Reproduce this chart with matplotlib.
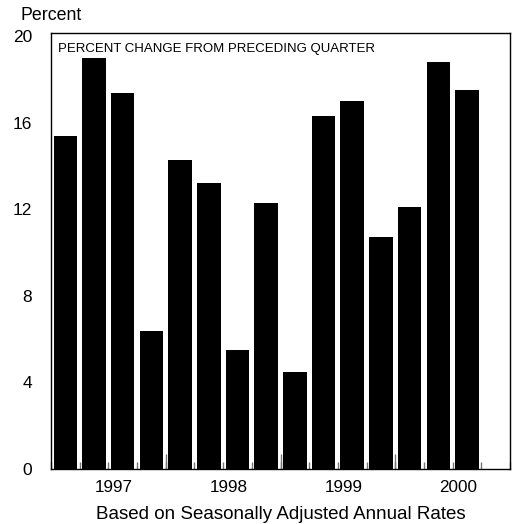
import numpy as np
import matplotlib
matplotlib.use("Agg")
import matplotlib.pyplot as plt

plt.rcParams['font.family'] = ['Liberation Sans', 'DejaVu Sans']

# quarterly percent change, 1997 Q1 .. 2000 Q3
values = [15.4, 19.0, 17.4, 6.4, 14.3, 13.2, 5.5, 12.3,
          4.5, 16.3, 17.0, 10.7, 12.1, 18.8, 17.5]
years = ['1997', '1998', '1999', '2000']
y_ticks = [0, 4, 8, 12, 16, 20]
n_slots = 16  # last quarter of 2000 has no bar yet

fig = plt.figure(figsize=(5.16, 5.24), dpi=100)
ax = fig.add_axes([51 / 516, 1 - 469 / 524, 459 / 516, 436 / 524])

x = np.arange(len(values))
ax.bar(x, values, width=0.82, color='black')

ax.set_xlim(-0.5, n_slots - 0.5)
ax.set_ylim(0, 20.15)

ax.set_yticks(y_ticks)
ax.set_yticklabels([str(v) for v in y_ticks])
ax.tick_params(axis='y', length=0, pad=13.5, labelsize=12.5)

# year labels centred under each group of four quarters
ax.set_xticks(np.arange(len(years)) * 4 + 1.7)
ax.set_xticklabels(years)
ax.tick_params(axis='x', which='major', length=0, pad=8, labelsize=12.3)

# short quarter ticks pointing in
ax.set_xticks(np.arange(n_slots + 1) - 0.5, minor=True)
ax.tick_params(axis='x', which='minor', direction='in', length=5,
               width=1, color='#777777')

# taller year-boundary ticks
sec = ax.secondary_xaxis('bottom')
sec.set_xticks(np.arange(1, len(years)) * 4 - 0.5)
sec.set_xticklabels([])
sec.tick_params(direction='in', length=11, width=1, color='#777777')
sec.spines['bottom'].set_visible(False)

for s in ax.spines.values():
    s.set_linewidth(1.0)
    s.set_color('black')

ax.text(0.015, 0.978, 'PERCENT CHANGE FROM PRECEDING QUARTER',
        transform=ax.transAxes, ha='left', va='top', fontsize=9.5)

ax.set_xlabel('Based on Seasonally Adjusted Annual Rates', fontsize=13.5,
              labelpad=8)
fig.text(20 / 516, 1 - 16 / 524, 'Percent', ha='left', va='center',
         fontsize=12.8)

plt.savefig('out.png', dpi=100)
